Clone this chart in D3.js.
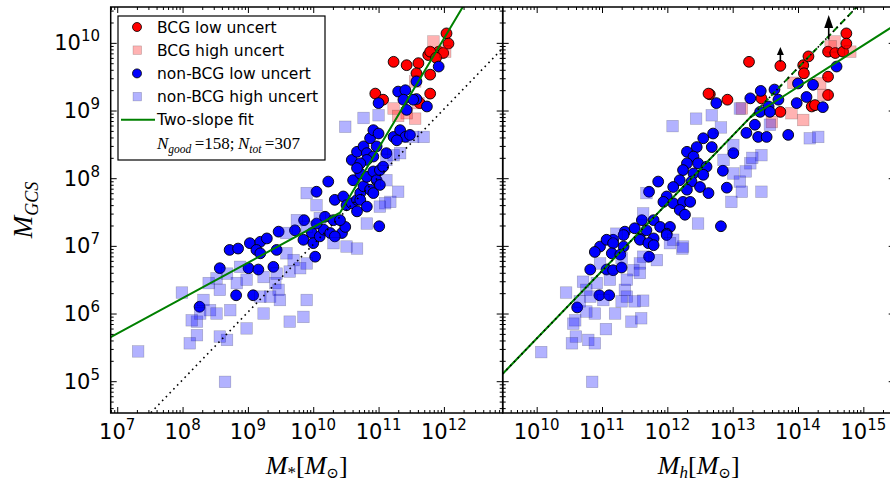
<!DOCTYPE html>
<html><head><meta charset="utf-8">
<script src="https://cdn.jsdelivr.net/npm/d3@7"></script>
<style>body{margin:0;background:#fff}svg{display:block}</style>
</head><body><svg id="c" width="890" height="484"></svg>
<script>
// ---- DATA (all values are log10 of masses in solar masses) ----
// Left panel: [log M*, log M_GCS]
const leftBCGLow = [[11.23,9.72],[11.43,9.67],[11.61,9.70],[11.58,9.55],[11.76,9.82],[11.79,9.53],[11.92,9.87],[11.99,9.85],[12.04,10.14],[12.07,9.99],[11.79,9.25],[11.63,9.11],[10.95,9.25],[11.07,9.16],[11.79,9.87],[11.88,9.78]];
const leftBCGHigh = [[11.84,10.02],[12.02,9.87],[11.56,9.43],[11.61,9.11],[11.56,8.88],[11.43,8.96],[11.23,9.03],[11.30,8.92]];
const leftNonLow = [[8.26,6.10],[8.82,6.27],[9.08,6.27],[8.57,6.67],[8.72,6.94],[8.85,6.96],[9.03,7.04],[9.19,7.06],[9.29,7.11],[9.44,6.94],[9.13,6.94],[9.19,6.89],[9.47,7.21],[9.01,6.67],[9.16,6.65],[9.39,6.69],[9.72,7.23],[9.86,7.38],[9.98,7.19],[9.85,7.09],[10.00,7.04],[10.10,7.14],[10.16,7.24],[10.05,7.33],[10.03,6.84],[10.05,7.80],[10.23,7.95],[10.18,7.43],[10.31,7.38],[10.44,7.19],[10.26,7.19],[10.33,7.14],[10.49,7.28],[10.41,7.38],[10.33,7.68],[10.46,7.73],[10.51,7.60],[10.59,7.63],[10.67,7.68],[10.72,7.78],[10.67,7.51],[10.77,7.88],[10.61,7.97],[10.72,8.07],[10.82,8.02],[10.92,8.10],[10.97,7.97],[10.87,7.83],[10.72,7.68],[10.82,7.58],[10.92,7.78],[11.02,7.90],[11.01,7.29],[10.59,8.27],[10.67,8.39],[10.77,8.47],[10.82,8.37],[10.92,8.32],[10.97,8.47],[10.87,8.59],[10.92,8.71],[11.00,8.66],[11.02,8.12],[11.07,8.17],[11.12,8.37],[11.23,8.61],[11.33,8.71],[11.41,8.61],[11.48,8.64],[11.28,8.56],[11.00,9.11],[11.30,9.28],[11.41,9.30],[11.38,9.16],[11.58,9.17],[11.58,9.43],[11.74,9.06],[11.53,9.16],[11.43,9.01],[11.92,9.65],[10.82,8.27],[10.72,8.22],[10.67,8.15]];
const leftNonHigh = [[10.49,8.76],[10.77,8.89],[11.00,8.93],[9.90,7.78],[10.05,7.60],[10.10,7.41],[9.75,7.38],[9.59,7.19],[9.90,7.28],[10.31,7.04],[10.51,6.99],[10.67,6.96],[10.82,7.33],[11.12,7.97],[11.30,7.80],[11.18,7.65],[11.10,7.63],[11.23,8.34],[11.33,8.37],[11.53,8.61],[11.69,8.61],[11.12,8.27],[11.02,7.58],[8.88,6.69],[8.68,6.59],[8.52,6.52],[8.40,6.45],[8.57,6.35],[8.83,6.45],[8.98,6.50],[9.24,6.54],[9.44,6.59],[9.64,6.62],[9.80,6.67],[9.90,6.74],[9.59,6.89],[9.70,6.79],[9.42,6.45],[9.47,6.35],[9.34,6.25],[9.19,6.25],[9.49,6.20],[9.90,6.20],[9.85,5.95],[9.64,5.88],[9.24,6.00],[8.98,5.78],[8.68,5.61],[8.57,5.66],[8.22,5.88],[8.22,5.68],[8.11,5.56],[8.32,6.20],[8.42,6.05],[8.73,6.05],[8.52,6.00],[8.27,6.00],[7.32,5.44],[7.99,6.31],[8.65,4.99],[8.14,5.90]];
// Right panel: [log Mh, log M_GCS]
const rightBCGLow = [[12.65,9.24],[12.63,9.25],[12.92,9.16],[13.25,9.72],[13.73,9.66],[14.08,9.67],[14.16,9.80],[14.09,9.55],[14.46,9.50],[14.46,9.23],[14.21,9.06],[13.73,8.98],[13.44,9.18],[14.46,9.87],[14.57,9.85],[14.69,9.87],[14.74,10.14],[14.74,9.99],[14.26,9.08]];
const rightBCGHigh = [[14.56,10.02],[13.93,9.41],[14.34,9.40],[13.90,8.96],[14.08,8.86],[13.60,8.83],[13.14,9.03],[14.39,9.23],[14.80,9.87],[14.50,9.95]];
const rightNonLow = [[12.75,9.11],[13.27,9.18],[13.43,9.29],[13.64,9.31],[13.70,9.16],[13.55,9.06],[13.42,8.98],[13.57,8.98],[13.34,8.79],[13.21,8.67],[13.39,8.61],[13.52,8.61],[13.85,8.64],[14.00,9.40],[14.23,9.38],[14.13,9.20],[13.98,9.11],[14.38,9.05],[14.59,9.65],[12.70,8.66],[12.55,8.59],[12.68,8.46],[12.45,8.46],[12.30,8.39],[12.40,8.32],[12.30,8.22],[12.47,8.22],[12.60,8.17],[12.24,8.12],[12.40,8.07],[12.55,8.05],[12.19,7.97],[12.37,7.95],[12.50,7.87],[12.63,7.78],[12.30,7.83],[12.09,7.87],[11.86,7.95],[11.72,7.80],[13.01,8.37],[12.85,8.11],[12.91,7.86],[12.82,7.29],[11.99,7.73],[11.94,7.65],[12.09,7.63],[12.24,7.65],[12.35,7.65],[12.19,7.53],[12.27,7.46],[11.61,7.38],[11.79,7.38],[11.68,7.23],[11.89,7.28],[12.04,7.28],[11.99,7.18],[11.79,7.11],[11.58,7.11],[11.35,7.21],[11.50,7.26],[11.17,7.09],[11.33,6.99],[10.97,6.99],[11.07,7.09],[10.89,6.91],[11.17,7.04],[11.33,7.16],[11.15,6.89],[11.28,6.87],[10.82,6.65],[11.07,6.65],[11.17,6.64],[11.30,6.68],[10.96,6.27],[11.11,6.27],[10.62,6.09],[11.72,6.84],[11.58,7.09],[11.71,7.04],[11.79,7.01],[11.99,7.16]];
const rightNonHigh = [[12.08,8.77],[12.44,8.88],[12.68,8.93],[12.82,8.75],[13.11,9.03],[13.01,8.49],[12.86,8.27],[13.01,8.07],[13.11,7.95],[13.14,7.80],[12.98,7.65],[13.44,7.80],[13.27,8.22],[13.44,8.34],[13.57,8.79],[14.18,8.59],[14.31,8.61],[12.47,7.33],[12.24,6.99],[12.09,7.09],[11.68,7.78],[11.63,7.48],[11.22,7.18],[12.23,6.96],[12.04,7.04],[11.63,6.84],[11.58,6.74],[11.48,6.64],[11.58,6.60],[11.35,6.35],[11.38,6.25],[11.30,6.18],[11.63,6.19],[11.50,6.18],[11.45,5.88],[11.60,5.93],[11.20,6.00],[11.06,5.77],[10.89,6.00],[10.76,6.03],[10.59,5.90],[10.56,5.85],[10.60,5.66],[10.54,5.56],[10.79,5.61],[10.89,5.56],[10.07,5.43],[10.85,4.99],[10.45,6.31],[10.71,6.47],[10.92,6.45],[10.76,6.35],[10.66,6.18],[11.12,6.50],[11.38,6.50],[10.97,6.74],[11.30,6.82],[11.84,6.79],[11.02,6.20],[10.82,6.25],[13.30,8.30],[13.20,8.10]];
// Fit / reference lines: [log x, log y] vertices
const leftFit = [[6.9,5.65],[10.41,7.49],[12.9,11.52]];
const leftRef = [[7.4,4.42],[12.9,9.92]];
const rightFit = [[9.48,5.11],[13.27,8.90],[15.48,10.26]];
const rightFitExt = [[13.27,8.90],[14.95,10.58]];
const rightRef = [[9.48,5.11],[14.95,10.58]];
// Lower-limit arrows in right panel: [log Mh, log y from, log y to]
const rightArrows = [[13.73,9.72,9.94],[14.47,10.05,10.41]];
// Tick decades
const yDecades = [5,6,7,8,9,10];
const leftDecades = [7,8,9,10,11,12];
const rightDecades = [10,11,12,13,14,15];
const legendLabels = ["BCG low uncert","BCG high uncert","non-BCG low uncert","non-BCG high uncert","Two-slope fit"];
const nGood = 158, nTot = 307;

// ---- DRAWING ----
const svg = d3.select("#c");
svg.append("rect").attr("width",890).attr("height",484).attr("fill","#fff");
const P = v => Math.pow(10, v);
const y = d3.scaleLog().domain([P(4.53), P(10.53)]).range([413, 7]);
const xL = d3.scaleLog().domain([P(6.9), P(12.9)]).range([110.7, 502.7]);
const xR = d3.scaleLog().domain([P(9.48), P(15.48)]).range([502.7, 894.7]);
const SANS = "DejaVu Sans, sans-serif";
const SERIF = "Liberation Serif, DejaVu Serif, serif";

const defs = svg.append("defs");
function minorVals(scale){
  const [a,b] = scale.domain().map(Math.log10);
  const out=[];
  for(let d=Math.floor(a); d<=Math.ceil(b); d++) for(let k=2;k<=9;k++){
    const v=k*P(d); const lv=Math.log10(v); if(lv>a && lv<b) out.push(v);
  }
  return out;
}

function panel(id, x, decades, data, lines, showY){
  const [x0,x1] = x.range(), [y1,y0] = y.range();
  defs.append("clipPath").attr("id","clip"+id).append("rect")
    .attr("x",x0).attr("y",y0).attr("width",x1-x0).attr("height",y1-y0);
  const g = svg.append("g").attr("clip-path",`url(#clip${id})`);
  const [bLow,bHigh,nLow,nHigh] = data;
  const circ = (arr, fill) => g.append("g").selectAll("circle").data(arr).join("circle")
    .attr("cx",d=>x(P(d[0]))).attr("cy",d=>y(P(d[1]))).attr("r",5.4)
    .attr("fill",fill).attr("stroke","#000").attr("stroke-width",0.9);
  const sq = (arr, fill) => g.append("g").selectAll("rect").data(arr).join("rect")
    .attr("x",d=>x(P(d[0]))-5.8).attr("y",d=>y(P(d[1]))-5.8).attr("width",11.6).attr("height",11.6)
    .attr("fill",fill).attr("fill-opacity",0.3).attr("stroke","#000").attr("stroke-opacity",0.25).attr("stroke-width",0.6);
  circ(bLow,"#ff0000");
  sq(bHigh,"#ff0000");
  circ(nLow,"#0000ff");
  sq(nHigh,"#0000ff");
  const line = d3.line().x(d=>x(P(d[0]))).y(d=>y(P(d[1])));
  lines.forEach(l=>{
    g.append("path").attr("d",line(l.pts)).attr("fill","none").attr("stroke",l.color)
      .attr("stroke-width",l.w).attr("stroke-dasharray",l.dash||null);
  });
  // ticks
  const maj = decades.map(P), mino = minorVals(x);
  const yMaj = yDecades.map(P), yMin = minorVals(y);
  const ax = (gen, tr, vals, len) => {
    const a = svg.append("g").attr("transform",tr)
      .call(gen.tickValues(vals).tickSize(-len).tickFormat(""));
    a.select(".domain").remove(); a.selectAll("text").remove();
    a.selectAll("line").attr("stroke","#000").attr("stroke-width",1);
  };
  ax(d3.axisBottom(x),`translate(0,${y1})`,maj,6);
  ax(d3.axisBottom(x),`translate(0,${y1})`,mino,3);
  ax(d3.axisTop(x),`translate(0,${y0})`,maj,6);
  ax(d3.axisTop(x),`translate(0,${y0})`,mino,3);
  ax(d3.axisLeft(y),`translate(${x0},0)`,yMaj,6);
  ax(d3.axisLeft(y),`translate(${x0},0)`,yMin,3);
  ax(d3.axisRight(y),`translate(${x1},0)`,yMaj,6);
  ax(d3.axisRight(y),`translate(${x1},0)`,yMin,3);
  svg.append("rect").attr("x",x0).attr("y",y0).attr("width",x1-x0).attr("height",y1-y0)
    .attr("fill","none").attr("stroke","#000").attr("stroke-width",1.5);
  // x tick labels
  decades.forEach(d=>{
    const t = svg.append("text").attr("x",x(P(d))).attr("y",439).attr("text-anchor","middle")
      .attr("font-family",SANS).attr("font-size",21).attr("fill","#000");
    t.append("tspan").text("10");
    t.append("tspan").attr("font-size",15).attr("dy",-9).text(d);
  });
  if(showY){
    yDecades.forEach(d=>{
      const t = svg.append("text").attr("x",100).attr("y",y(P(d))+7.5).attr("text-anchor","end")
        .attr("font-family",SANS).attr("font-size",21).attr("fill","#000");
      t.append("tspan").text("10");
      t.append("tspan").attr("font-size",15).attr("dy",-9).text(d);
    });
  }
  return g;
}

panel("L", xL, leftDecades, [leftBCGLow,leftBCGHigh,leftNonLow,leftNonHigh], [
  {pts:leftRef,color:"#000",w:1.6,dash:"1.6,3.8"},
  {pts:leftFit,color:"#008000",w:2}
], true);
const gR = panel("R", xR, rightDecades, [rightBCGLow,rightBCGHigh,rightNonLow,rightNonHigh], [
  {pts:rightFit,color:"#008000",w:2},
  {pts:rightFitExt,color:"#008000",w:2,dash:"6,4"},
  {pts:rightRef,color:"#000",w:1.6,dash:"1.6,3.8"}
], false);

// arrows
rightArrows.forEach((a,i)=>{
  const ax = xR(P(a[0])), yF = y(P(a[1])), yT = y(P(a[2]));
  const hl = i===0 ? 8 : 13, hw = i===0 ? 3.5 : 4.5;
  gR.append("line").attr("x1",ax).attr("x2",ax).attr("y1",yF).attr("y2",yT+hl)
    .attr("stroke","#000").attr("stroke-width",1.6);
  gR.append("path").attr("d",`M${ax},${yT}L${ax-hw},${yT+hl}L${ax+hw},${yT+hl}Z`).attr("fill","#000");
});

// axis titles
function title(x0, yb, sub){
  const t = svg.append("text").attr("x",x0).attr("y",yb).attr("text-anchor","middle")
    .attr("font-family",SERIF).attr("font-size",26).attr("fill","#000");
  t.append("tspan").attr("font-style","italic").text("M");
  t.append("tspan").attr("font-size",17).attr("dy",4).attr("font-style", sub==="*"?"normal":"italic").text(sub);
  t.append("tspan").attr("dy",-4).text("[");
  t.append("tspan").attr("font-style","italic").text("M");
  t.append("tspan").attr("font-size",15).attr("dy",4).attr("font-family","DejaVu Serif, serif").text("\u2299");
  t.append("tspan").attr("dy",-4).text("]");
}
title(306.7, 474, "*");
title(698.7, 474, "h");
{
  const t = svg.append("text").attr("transform","translate(32,210) rotate(-90)").attr("text-anchor","middle")
    .attr("font-family",SERIF).attr("font-size",27).attr("fill","#000");
  t.append("tspan").attr("font-style","italic").text("M");
  t.append("tspan").attr("font-size",18).attr("dy",6).attr("font-style","italic").text("GCS");
}

// legend
const lg = svg.append("g");
lg.append("rect").attr("x",118).attr("y",16).attr("width",207).attr("height",144)
  .attr("fill","#fff").attr("stroke","#000").attr("stroke-width",1.2);
const rowY = i => 27 + i*23.2;
lg.append("circle").attr("cx",137).attr("cy",rowY(0)).attr("r",4.5).attr("fill","#ff0000").attr("stroke","#000").attr("stroke-width",0.8);
lg.append("rect").attr("x",133).attr("y",rowY(1)-4.3).attr("width",8.6).attr("height",8.6).attr("fill","#ff0000").attr("fill-opacity",0.3).attr("stroke","#000").attr("stroke-opacity",0.25).attr("stroke-width",0.6);
lg.append("circle").attr("cx",137).attr("cy",rowY(2)).attr("r",4.5).attr("fill","#0000ff").attr("stroke","#000").attr("stroke-width",0.8);
lg.append("rect").attr("x",133).attr("y",rowY(3)-4.3).attr("width",8.6).attr("height",8.6).attr("fill","#0000ff").attr("fill-opacity",0.3).attr("stroke","#000").attr("stroke-opacity",0.25).attr("stroke-width",0.6);
lg.append("line").attr("x1",121).attr("x2",155).attr("y1",rowY(4)).attr("y2",rowY(4)).attr("stroke","#008000").attr("stroke-width",2);
legendLabels.forEach((s,i)=>{
  lg.append("text").attr("x",157).attr("y",rowY(i)+5.6).attr("font-family",SANS).attr("font-size",15.5).attr("fill","#000").text(s);
});
{
  const t = lg.append("text").attr("x",157).attr("y",149).attr("font-family",SERIF).attr("font-size",17).attr("fill","#000");
  t.append("tspan").attr("font-style","italic").text("N");
  t.append("tspan").attr("font-style","italic").attr("font-size",11.5).attr("dy",4).text("good");
  t.append("tspan").attr("dy",-4).text("\u2009=158;\u2009");
  t.append("tspan").attr("font-style","italic").text("N");
  t.append("tspan").attr("font-style","italic").attr("font-size",11.5).attr("dy",4).text("tot");
  t.append("tspan").attr("dy",-4).text("\u2009=307");
}
</script></body></html>
